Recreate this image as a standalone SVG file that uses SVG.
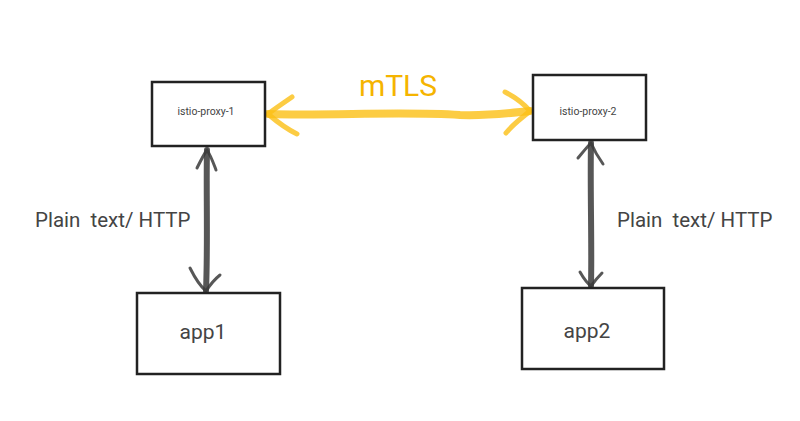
<svg xmlns="http://www.w3.org/2000/svg" width="800" height="421" viewBox="0 0 800 421">
<style>
.box{fill:#fff;stroke:#222;stroke-width:2.5}
.t{font-family:Roboto,"Liberation Sans",sans-serif;fill:#444;white-space:pre}
.dark{fill:none;stroke:#3a3a3a;stroke-opacity:0.85;stroke-linecap:round;stroke-linejoin:round}
.gold{fill:none;stroke:#fbbf14;stroke-opacity:0.8;stroke-linecap:round;stroke-linejoin:round}
</style>
<rect width="800" height="421" fill="#fff"/>
<g id="connectors">
  <g id="mtls">
    <path class="gold" stroke-width="8" d="M268 114 C330 116 400 111 460 115 C490 116 510 113 530 111"/>
    <path class="gold" stroke-width="5" d="M292 97 C282 104 273 110 268 114 C275 120 283 127 297 134"/>
    <path class="gold" stroke-width="5" d="M505 92 C515 97 524 104 530 111 C522 118 513 124 506 133"/>
    <text class="t" x="398" y="96" font-size="30" text-anchor="middle" style="fill:#f5b400">mTLS</text>
  </g>
  <g id="link1">
    <path class="dark" stroke-width="6" d="M207 150 C206 190 208 240 206 291"/>
    <path class="dark" stroke-width="3" d="M197 168 C201 160 204 154 207 150 C211 156 213 162 216 170"/>
    <path class="dark" stroke-width="3" d="M190 268 C195 278 200 286 206 291 C210 285 215 279 220 275"/>
  </g>
  <g id="link2">
    <path class="dark" stroke-width="6" d="M591 143 C590 190 592 240 591 286"/>
    <path class="dark" stroke-width="3" d="M578 158 C583 152 587 147 591 143 C594 150 598 157 603 164"/>
    <path class="dark" stroke-width="3" d="M580 272 C584 279 587 283 591 286 C594 282 597 278 602 273"/>
  </g>
  <text class="t" x="35" y="227" font-size="20.5">Plain  text/ HTTP</text>
  <text class="t" x="617" y="227" font-size="20.5">Plain  text/ HTTP</text>
</g>
<g id="proxy1">
  <rect class="box" x="152" y="82" width="113" height="64"/>
  <text class="t" x="206" y="115" font-size="10.5" text-anchor="middle">istio-proxy-1</text>
</g>
<g id="proxy2">
  <rect class="box" x="533" y="75" width="113" height="65"/>
  <text class="t" x="588" y="115" font-size="10.5" text-anchor="middle">istio-proxy-2</text>
</g>
<g id="app1">
  <rect class="box" x="137" y="293" width="143" height="81"/>
  <text class="t" x="203" y="339" font-size="21" text-anchor="middle">app1</text>
</g>
<g id="app2">
  <rect class="box" x="522" y="288" width="142" height="81"/>
  <text class="t" x="587" y="338" font-size="21" text-anchor="middle">app2</text>
</g>
</svg>
